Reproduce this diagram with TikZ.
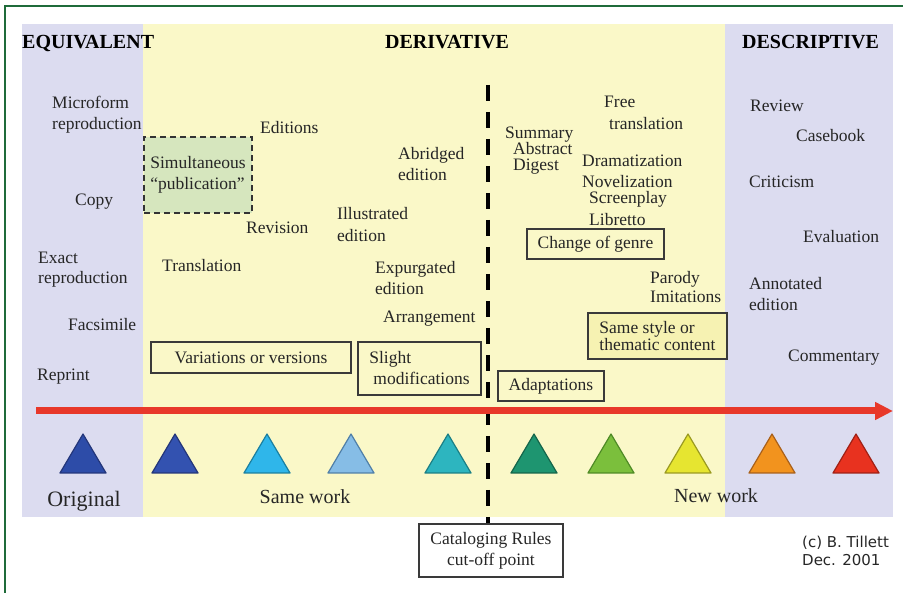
\documentclass[tikz,border=0pt]{standalone}
\usepackage{fontspec}
\setmainfont{Liberation Serif}
\newfontfamily\cpfont{DejaVu Sans}
\usetikzlibrary{arrows.meta}
\definecolor{lav}{HTML}{DCDCF0}
\definecolor{yel}{HTML}{FAF8C8}
\definecolor{yelbox}{HTML}{F6F2B2}
\definecolor{grnbox}{HTML}{D6E6BE}
\definecolor{frame}{HTML}{1F6B3A}
\definecolor{txt}{HTML}{262626}
\definecolor{boxc}{HTML}{3A3A3A}
\definecolor{redar}{HTML}{E8382A}
\begin{document}
\begin{tikzpicture}[x=1pt,y=-1pt,
  lbl/.style={inner sep=0pt,anchor=base west,text=txt,font=\fontsize{17.5}{21}\selectfont},
  mlbl/.style={inner sep=0pt,anchor=north west,align=left,text=txt,font=\fontsize{17.5}{#1}\selectfont},
  ttl/.style={inner sep=0pt,anchor=base west,text=black,font=\fontsize{20}{24}\selectfont\bfseries},
  bigl/.style={inner sep=0pt,anchor=base,text=txt,font=\fontsize{#1}{24}\selectfont},
  box/.style={draw=boxc,line width=1.6pt,inner sep=0pt,text=txt,align=center,font=\fontsize{17.5}{21}\selectfont},
  tri/.style n args={2}{fill=#1,draw=#2,line width=1.2pt,line join=round}
]
\useasboundingbox (0,0) rectangle (903,593);
\fill[white] (0,0) rectangle (903,593);
% panels
\fill[lav] (22,24) rectangle (143,517);
\fill[yel] (143,24) rectangle (725,517);
\fill[lav] (725,24) rectangle (893,517);
% frame
\draw[frame,line width=2.2pt] (5,593) -- (5,6) -- (903,6);
% titles
\node[ttl] (tEq) at (22,49) {EQUIVALENT};
\node[ttl,anchor=base] (tDer) at (447,49) {DERIVATIVE};
\node[ttl] (tDes) at (742,49) {DESCRIPTIVE};
% left column
\node[mlbl=21] (micro) at (52,96) {Microform\\reproduction};
\node[lbl] (copy) at (75,206) {Copy};
\node[mlbl=20] (exact) at (38,252) {Exact\\reproduction};
\node[lbl] (facs) at (68,331) {Facsimile};
\node[lbl] (repr) at (37,381) {Reprint};
% derivative, same work side
\node[box,draw=black!80,dashed,dash pattern=on 6pt off 4pt,fill=grnbox,minimum width=108pt,minimum height=76pt,align=left] (simul) at (198,175) {Simultaneous\\``publication''};
\node[lbl] (edit) at (260,134) {Editions};
\node[lbl] (revi) at (246,234) {Revision};
\node[lbl] (trans) at (162,272) {Translation};
\node[mlbl=21] (abr) at (398,147) {Abridged\\edition};
\node[mlbl=22] (ill) at (337,207) {Illustrated\\edition};
\node[mlbl=21] (exp) at (375,261) {Expurgated\\edition};
\node[lbl] (arr) at (383,323) {Arrangement};
\node[box,minimum width=200pt,minimum height=31pt] (var) at (251,357.5) {Variations or versions};
\node[box,minimum width=123pt,minimum height=53pt,align=left] (slight) at (419.5,368.5) {Slight\\\hspace*{4pt}modifications};
% new work side
\node[mlbl=16] (summ) at (505,127) {Summary\\\hspace*{8pt}Abstract\\\hspace*{8pt}Digest};
\node[mlbl=22] (free) at (604,96) {Free\\\hspace*{5pt}translation};
\node[lbl] (drama) at (582,167) {Dramatization};
\node[lbl] (novel) at (582,188) {Novelization};
\node[lbl] (screen) at (589,204) {Screenplay};
\node[lbl] (libr) at (589,226) {Libretto};
\node[box,minimum width=137pt,minimum height=30pt] (genre) at (595.5,244) {Change of genre};
\node[mlbl=19] (parody) at (650,271) {Parody\\Imitations};
\node[box,fill=yelbox,minimum width=139pt,minimum height=46pt,align=left,font=\fontsize{17.5}{14}\selectfont] (style) at (657.5,336) {Same style or\\thematic content};
\node[box,minimum width=106pt,minimum height=30pt] (adapt) at (551,386) {Adaptations};
% descriptive
\node[lbl] (review) at (750,112) {Review};
\node[lbl] (caseb) at (796,142) {Casebook};
\node[lbl] (crit) at (749,188) {Criticism};
\node[lbl] (eval) at (803,243) {Evaluation};
\node[mlbl=21] (annot) at (749,277) {Annotated\\edition};
\node[lbl] (comm) at (788,362) {Commentary};
% cut-off
\coordinate (dtop) at (488,85);
\node[box,fill=white,minimum width=144pt,minimum height=53pt] (cat) at (491,550.5) {Cataloging Rules\\cut-off point};
\draw[black,line width=4.5pt,dash pattern=on 16pt off 11pt] (dtop) -- (dtop |- cat.north);
% red arrow
\coordinate (astart) at (36,411);
\coordinate (aend) at (893,411);
\draw[redar,line width=7pt,-{Triangle[length=18pt,width=17pt]}] (astart) -- (aend);
% triangles
\foreach \cx/\fc/\dc in {83/2D4CA8/23367A,175/3352B0/23367A,267/2FB6EA/1A7FA0,351/86BDE6/4F7FA8,448/2DB5BF/1A7F85,534/1E9570/14654A,611/7BBF3C/4E8A25,688/E6E530/9A9A20,772/F2931E/A9601A,856/E8321F/A02015}{
  \definecolor{tf}{HTML}{\fc}\definecolor{td}{HTML}{\dc}
  \draw[tri={tf}{td}] (\cx-23,473) -- (\cx,434) -- (\cx+23,473) -- cycle;
}
% bottom labels
\node[bigl=22] (orig) at (84,507) {Original};
\node[bigl=20] (same) at (305,504) {Same work};
\node[bigl=20] (neww) at (716,503) {New work};
\node[inner sep=0pt,anchor=north west,align=left,text=txt,font=\cpfont\fontsize{15}{18}\selectfont] (copyr) at (802,536) {(c) B. Tillett\\Dec. 2001};
\end{tikzpicture}
\end{document}
